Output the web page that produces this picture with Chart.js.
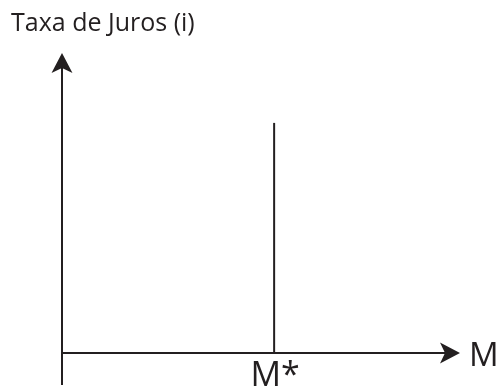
<!DOCTYPE html>
<html>
<head>
<meta charset="utf-8">
<script src="https://cdn.jsdelivr.net/npm/chart.js@4/dist/chart.umd.min.js"></script>
<style>
  html, body { margin: 0; padding: 0; background: #fff; }
  #wrap { width: 497px; height: 389px; }
</style>
</head>
<body>
<div id="wrap"><canvas id="chart" width="497" height="389"></canvas></div>
<script>
// money supply diagram: vertical supply curve at M*
const xRange = [0, 100];
const yRange = [0, 100];
const supplyX = [53.3, 53.3];
const supplyY = [0, 76.7];
const yAxisTitle = 'Taxa de Juros (i)';
const xAxisTitle = 'M';
const tickLabels = ['M*'];

const INK = '#231f20';
const FONT = '"Open Sans", "Noto Sans", sans-serif';

function arrowHead(ctx, tipX, tipY, dir) {
  // dir: 'up' or 'right'; concave-back arrow head
  const len = 20, half = 10.5, notch = 5;
  ctx.beginPath();
  if (dir === 'up') {
    ctx.moveTo(tipX, tipY);
    ctx.lineTo(tipX + half, tipY + len);
    ctx.lineTo(tipX, tipY + len - notch);
    ctx.lineTo(tipX - half, tipY + len);
  } else {
    ctx.moveTo(tipX, tipY);
    ctx.lineTo(tipX - len, tipY - half);
    ctx.lineTo(tipX - len + notch, tipY);
    ctx.lineTo(tipX - len, tipY + half);
  }
  ctx.closePath();
  ctx.fill();
}

const axesPlugin = {
  id: 'axesArrows',
  afterDraw(chart) {
    const { ctx, scales: { x, y } } = chart;
    const x0 = x.getPixelForValue(xRange[0]);
    const x1 = x.getPixelForValue(xRange[1]);
    const y0 = y.getPixelForValue(yRange[0]);
    const y1 = y.getPixelForValue(yRange[1]);

    ctx.save();
    ctx.strokeStyle = INK;
    ctx.fillStyle = INK;
    ctx.lineWidth = 2;

    // y axis, running a bit past the origin
    ctx.beginPath();
    ctx.moveTo(x0, y1 + 10);
    ctx.lineTo(x0, y0 + 32);
    ctx.stroke();
    arrowHead(ctx, x0, y1, 'up');

    // x axis
    ctx.beginPath();
    ctx.moveTo(x0 - 1, y0);
    ctx.lineTo(x1 - 10, y0);
    ctx.stroke();
    arrowHead(ctx, x1, y0, 'right');

    // titles and tick label
    ctx.textBaseline = 'alphabetic';
    ctx.font = `25px ${FONT}`;
    ctx.textAlign = 'left';
    ctx.fillText(yAxisTitle, 11, 31);

    ctx.font = `33px ${FONT}`;
    ctx.fillText(xAxisTitle, x1 + 9, y0 + 13);

    ctx.font = `34px ${FONT}`;
    ctx.textAlign = 'center';
    ctx.fillText(tickLabels[0], x.getPixelForValue(supplyX[0]) + 1, y0 + 33);
    ctx.restore();
  }
};

new Chart(document.getElementById('chart'), {
  type: 'scatter',
  plugins: [axesPlugin],
  data: {
    datasets: [{
      data: supplyX.map((v, i) => ({ x: v, y: supplyY[i] })),
      showLine: true,
      borderColor: INK,
      borderWidth: 2,
      pointRadius: 0,
      fill: false,
    }]
  },
  options: {
    responsive: false,
    animation: false,
    layout: { padding: { left: 62, right: 37, top: 53, bottom: 36 } },
    scales: {
      x: { type: 'linear', display: false, min: xRange[0], max: xRange[1] },
      y: { type: 'linear', display: false, min: yRange[0], max: yRange[1] },
    },
    plugins: {
      legend: { display: false },
      tooltip: { enabled: false },
    },
  }
});
</script>
</body>
</html>
